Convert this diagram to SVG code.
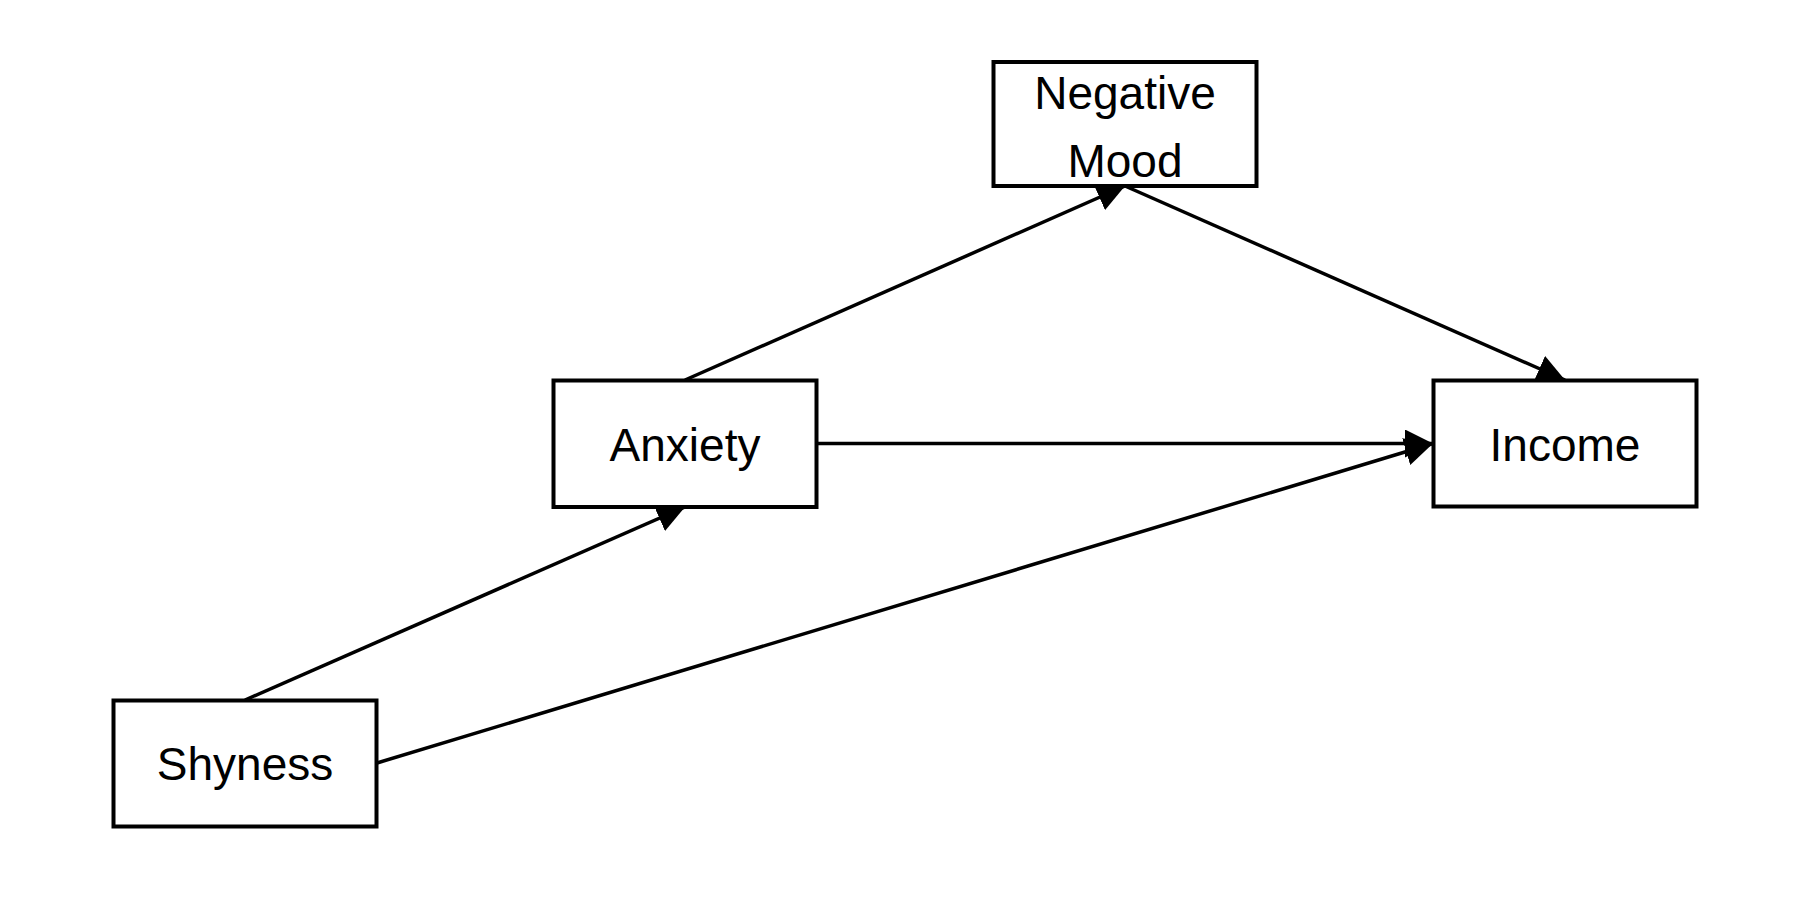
<svg xmlns="http://www.w3.org/2000/svg" width="1800" height="900" viewBox="0 0 1800 900">
<style>
.box{fill:#fff;stroke:#000;stroke-width:4}
.lbl{font-family:"Liberation Sans",Arial,sans-serif;font-size:46px;fill:#000;text-anchor:middle}
.edge{stroke:#000;stroke-width:3.5;fill:none;marker-end:url(#ah)}
</style>
<defs>
<marker id="ah" viewBox="0 0 28 28" refX="28" refY="14" markerWidth="28" markerHeight="28" orient="auto" markerUnits="userSpaceOnUse">
<path d="M0,0 L28,14 L0,28 z" fill="#000"/>
</marker>
</defs>
<rect width="1800" height="900" fill="#fff"/>
<g id="connectors">
<line class="edge" x1="245" y1="700" x2="685" y2="507"/>
<line class="edge" x1="685" y1="380" x2="1125" y2="186"/>
<line class="edge" x1="1125" y1="186" x2="1565" y2="380"/>
<line class="edge" x1="816" y1="443.5" x2="1433" y2="443.5"/>
<line class="edge" x1="377" y1="763" x2="1433" y2="443.5"/>
</g>
<g id="negative-mood">
<rect class="box" x="993.5" y="62" width="263" height="124"/>
<text class="lbl" x="1125" y="109">Negative</text>
<text class="lbl" x="1125" y="176.5">Mood</text>
</g>
<g id="anxiety">
<rect class="box" x="553.5" y="380.5" width="263" height="126.5"/>
<text class="lbl" x="685" y="461">Anxiety</text>
</g>
<g id="income">
<rect class="box" x="1433.5" y="380.5" width="263" height="126"/>
<text class="lbl" x="1565" y="461">Income</text>
</g>
<g id="shyness">
<rect class="box" x="113.5" y="700.5" width="263" height="126"/>
<text class="lbl" x="245" y="780">Shyness</text>
</g>
</svg>
